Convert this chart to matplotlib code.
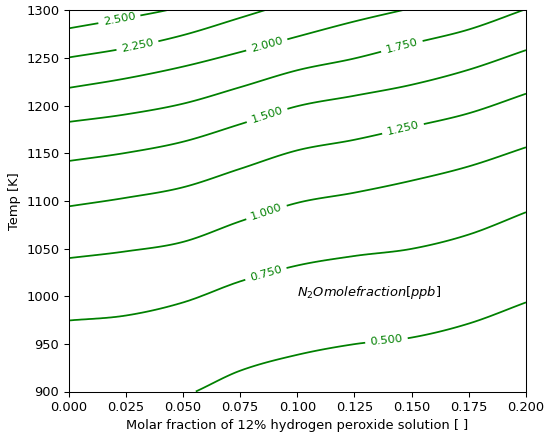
import numpy as np
import matplotlib
matplotlib.use("Agg")
import matplotlib.pyplot as plt

# Molar fraction of the 12 % H2O2 solution at which each iso-line was sampled
h2o2_fraction = np.array([0.0, 0.025, 0.05, 0.075, 0.1, 0.125, 0.15, 0.175, 0.2])

# N2O mole fraction [ppb] iso-levels (outer two only bound the field)
n2o_levels = np.array([0.25, 0.5, 0.75, 1.0, 1.25, 1.5, 1.75, 2.0, 2.25, 2.5, 2.75])

# Temperature [K] of every iso-level at the sampled molar fractions
temp_n2o_0250 = [760.0, 770.0, 785.0, 810.0, 830.0, 840.0, 850.0, 860.0, 880.0]
temp_n2o_0500 = [868.0, 880.0, 894.5, 921.8, 938.5, 949.7, 956.6, 971.3, 993.5]
temp_n2o_0750 = [974.5, 979.7, 993.4, 1015.5, 1032.2, 1042.2, 1049.7, 1064.7, 1088.1]
temp_n2o_1000 = [1039.9, 1047.0, 1056.9, 1078.5, 1097.9, 1108.6, 1121.2, 1136.2, 1156.2]
temp_n2o_1250 = [1094.2, 1103.2, 1114.2, 1133.6, 1153.0, 1164.1, 1177.7, 1191.9, 1212.4]
temp_n2o_1500 = [1141.8, 1150.3, 1162.0, 1180.4, 1199.3, 1210.3, 1221.8, 1237.6, 1258.1]
temp_n2o_1750 = [1182.8, 1190.7, 1201.9, 1219.2, 1237.0, 1249.4, 1264.9, 1279.8, 1301.2]
temp_n2o_2000 = [1218.5, 1228.4, 1240.8, 1256.0, 1272.3, 1288.2, 1302.2, 1316.0, 1330.0]
temp_n2o_2250 = [1250.4, 1260.2, 1273.8, 1292.0, 1310.6, 1329.0, 1347.0, 1364.0, 1380.0]
temp_n2o_2500 = [1280.9, 1291.6, 1304.0, 1323.0, 1342.0, 1360.0, 1378.0, 1395.0, 1411.0]
temp_n2o_2750 = [1312.0, 1323.0, 1336.0, 1355.0, 1373.0, 1392.0, 1410.0, 1428.0, 1445.0]

# Where the inline level labels sit (molar fraction, temperature)
label_positions = [
    (0.0223, 1289.6), (0.0301, 1263.3), (0.0865, 1265.1), (0.1456, 1263.3),
    (0.0865, 1191.9), (0.1462, 1175.8), (0.0865, 1088.2), (0.0865, 1021.7),
    (0.1390, 953.5),
]

iso_temps = np.array([temp_n2o_0250, temp_n2o_0500, temp_n2o_0750, temp_n2o_1000,
                      temp_n2o_1250, temp_n2o_1500, temp_n2o_1750, temp_n2o_2000,
                      temp_n2o_2250, temp_n2o_2500, temp_n2o_2750])


def hermite(xn, yn, xq):
    """Smooth cubic Hermite curve through the sampled nodes."""
    xn = np.asarray(xn, float)
    yn = np.asarray(yn, float)
    m = np.gradient(yn, xn)
    i = np.clip(np.searchsorted(xn, xq) - 1, 0, len(xn) - 2)
    h = xn[i + 1] - xn[i]
    t = (xq - xn[i]) / h
    h00 = 2 * t**3 - 3 * t**2 + 1
    h10 = t**3 - 2 * t**2 + t
    h01 = -2 * t**3 + 3 * t**2
    h11 = t**3 - t**2
    return h00 * yn[i] + h10 * h * m[i] + h01 * yn[i + 1] + h11 * h * m[i + 1]


# Build the N2O field on a regular grid from the iso-level temperatures
xq = np.linspace(0.0, 0.2, 401)
tq = np.linspace(900.0, 1300.0, 801)
curves = np.array([hermite(h2o2_fraction, row, xq) for row in iso_temps])
field = np.empty((tq.size, xq.size))
for j in range(xq.size):
    field[:, j] = np.interp(tq, curves[:, j], n2o_levels)

DPI = 94
fig = plt.figure(figsize=(544 / DPI, 436 / DPI), dpi=DPI)
ax = fig.add_axes([68.5 / 544, 1 - 391.5 / 436, 457.5 / 544, 381.3 / 436])

cs = ax.contour(xq, tq, field, levels=n2o_levels[1:-1], colors="green",
                linewidths=1.35)
ax.clabel(cs, fmt="%1.3f", fontsize=8.8, manual=label_positions, inline_spacing=5)

ax.text(0.1, 1000, r"$N_2 O mole fraction [ppb]$", fontsize=10)

ax.set_xlim(0.0, 0.2)
ax.set_ylim(900, 1300)
ax.set_xticks([0.0, 0.025, 0.05, 0.075, 0.1, 0.125, 0.15, 0.175, 0.2])
ax.set_xticklabels(["0.000", "0.025", "0.050", "0.075", "0.100", "0.125",
                    "0.150", "0.175", "0.200"])
ax.set_yticks([900, 950, 1000, 1050, 1100, 1150, 1200, 1250, 1300])
ax.set_xlabel("Molar fraction of 12% hydrogen peroxide solution [ ]")
ax.set_ylabel("Temp [K]")

fig.savefig("out.png", dpi=DPI)
